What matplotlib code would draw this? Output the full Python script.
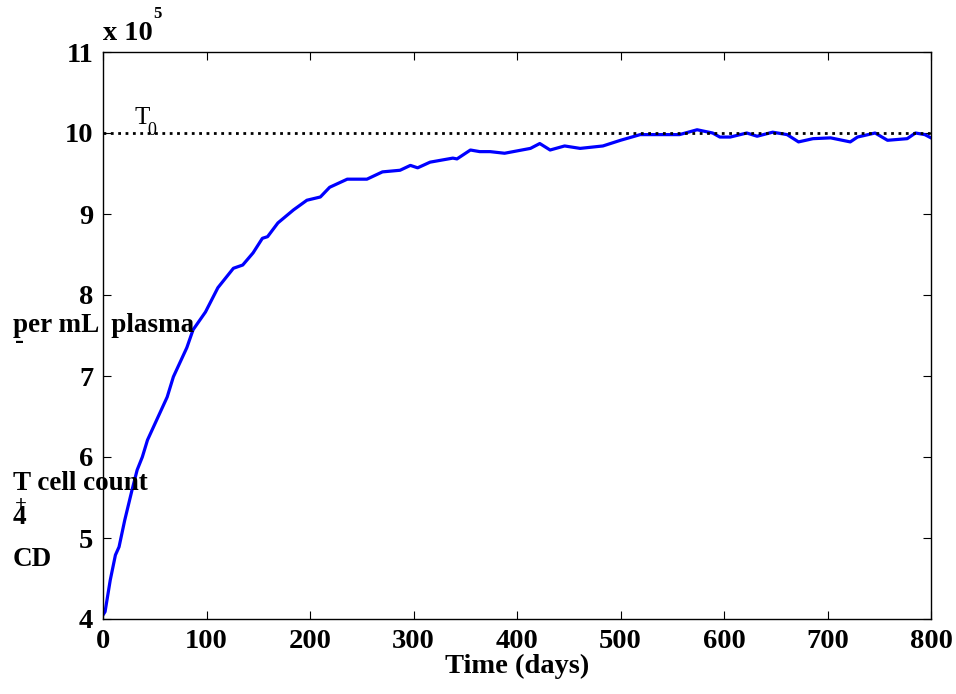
import matplotlib
matplotlib.use("Agg")
import matplotlib.pyplot as plt
import numpy as np

# CD4+ T cell count (x 1e5 per mL)
t_days = [0, 2, 7, 12, 15.5, 21, 28, 33, 38, 43, 62, 68, 81, 87, 99, 111, 126, 135,
          145, 154, 159, 169, 184, 197, 210, 219, 236, 255, 270, 287, 297, 304, 316,
          338, 342, 355, 364, 374, 388, 413, 422, 432, 446, 461, 483, 500, 519, 535,
          557, 574, 589, 596, 606, 622, 632, 647, 661, 672, 686, 703, 722, 729, 746,
          758, 777, 785, 794, 800]
t_cells = [4.05, 4.09, 4.48, 4.79, 4.89, 5.22, 5.59, 5.84, 6.00, 6.21, 6.74, 6.99, 7.35,
           7.57, 7.79, 8.09, 8.33, 8.37, 8.52, 8.70, 8.72, 8.89, 9.05, 9.17, 9.21, 9.33,
           9.43, 9.43, 9.52, 9.54, 9.60, 9.57, 9.64, 9.69, 9.68, 9.79, 9.77, 9.77, 9.75,
           9.81, 9.87, 9.79, 9.84, 9.81, 9.84, 9.91, 9.98, 9.98, 9.98, 10.04, 10.00,
           9.95, 9.95, 10.00, 9.96, 10.01, 9.98, 9.89, 9.93, 9.94, 9.89, 9.95, 10.00,
           9.91, 9.93, 10.00, 9.98, 9.94]
T0 = 10.0
x_ticks = [0, 100, 200, 300, 400, 500, 600, 700, 800]
y_ticks = [4, 5, 6, 7, 8, 9, 10, 11]

W, H = 956, 694
fs = 20.5
font = {'family': 'Liberation Serif', 'weight': 'bold'}

fig = plt.figure(figsize=(W / 100, H / 100), dpi=100)
ax = fig.add_axes([103 / W, 1 - 619 / H, (931 - 103) / W, (619 - 52) / H])

ax.plot(t_days, t_cells, color='blue', linewidth=2.3)
ax.plot([0, 800], [T0, T0], color='black', linestyle=':', linewidth=2)

ax.set_xlim(0, 800)
ax.set_ylim(4, 11)
ax.set_xticks(x_ticks)
ax.set_yticks(y_ticks)
ax.tick_params(direction='in', length=6, width=0.8, top=True, right=True, pad=7)
for lab in ax.get_xticklabels() + ax.get_yticklabels():
    lab.set_fontproperties(font)
    lab.set_fontsize(fs)
for s in ax.spines.values():
    s.set_linewidth(1)

ax.set_xlabel("Time (days)", fontsize=fs, labelpad=0, **font)

# axis exponent and T0 label
fig.text(103 / W, 1 - 33 / H, r"x 10", fontsize=fs, va='center', ha='left', **font)
fig.text(153 / W, 1 - 14 / H, "5", fontsize=12, va='center', ha='left', **font)
ax.text(30, 10.05, "T", fontsize=18, family='Liberation Serif', va='bottom')
ax.text(43, 9.93, "0", fontsize=13, family='Liberation Serif', va='bottom')

# garbled y label fragments, as in the reference
fig.text(13 / W, 1 - 325 / H, "per mL  plasma", fontsize=19.5, va='center', ha='left', **font)
fig.text(15 / W, 1 - 341 / H, "-", fontsize=19.5, va='center', ha='left', **font)
fig.text(13 / W, 1 - 483 / H, "T cell count", fontsize=19.5, va='center', ha='left', **font)
fig.text(15 / W, 1 - 505 / H, "+", fontsize=15, va='center', ha='left', **font)
fig.text(13 / W, 1 - 518 / H, "4", fontsize=19.5, va='center', ha='left', **font)
fig.text(13 / W, 1 - 560 / H, "CD", fontsize=19.5, va='center', ha='left', **font)

fig.savefig("out.png", dpi=100)
